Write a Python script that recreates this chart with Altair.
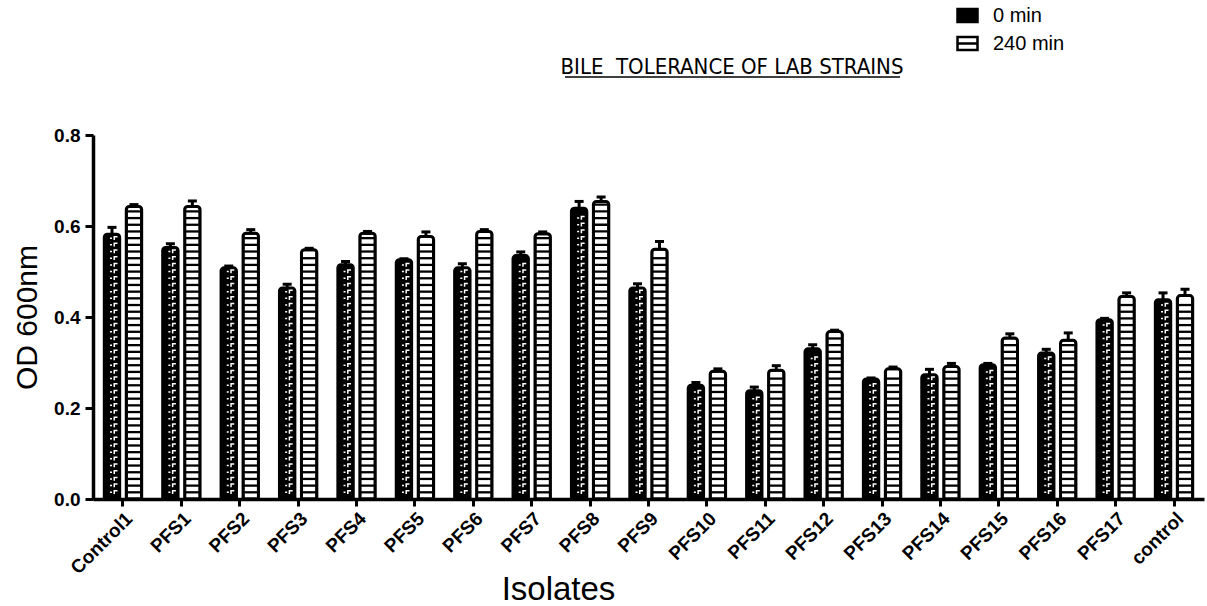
import altair as alt
import pandas as pd

# ---------------- data ----------------
categories = ["Control1", "PFS1", "PFS2", "PFS3", "PFS4", "PFS5", "PFS6", "PFS7",
              "PFS8", "PFS9", "PFS10", "PFS11", "PFS12", "PFS13", "PFS14",
              "PFS15", "PFS16", "PFS17", "control"]
series = ["0 min", "240 min"]
od_0min = [0.582, 0.553, 0.508, 0.464, 0.515, 0.526, 0.508, 0.535, 0.639, 0.464,
           0.250, 0.238, 0.330, 0.264, 0.273, 0.295, 0.321, 0.394, 0.438]
sem_0min = [0.015, 0.008, 0.004, 0.008, 0.007, 0.002, 0.009, 0.008, 0.015, 0.009,
            0.006, 0.008, 0.009, 0.002, 0.012, 0.003, 0.008, 0.003, 0.015]
od_240min = [0.643, 0.643, 0.584, 0.548, 0.584, 0.577, 0.588, 0.583, 0.654, 0.549,
             0.281, 0.283, 0.368, 0.286, 0.291, 0.354, 0.349, 0.445, 0.447]
sem_240min = [0.004, 0.012, 0.008, 0.003, 0.004, 0.010, 0.004, 0.004, 0.010, 0.017,
              0.005, 0.010, 0.003, 0.004, 0.007, 0.009, 0.016, 0.008, 0.014]
y_ticks = [0.0, 0.2, 0.4, 0.6, 0.8]
title_text = "BILE\u00a0 TOLERANCE OF LAB STRAINS"

# fill-pattern row spacing (style only, in data units)
PATTERN_STEP = 0.0147
PATTERN_TOP_MARGIN = 0.007

rows = []
for c, v, e in zip(categories, od_0min, sem_0min):
    rows.append({"Isolate": c, "Time": series[0], "OD": v, "SEM": e, "top": v + e})
for c, v, e in zip(categories, od_240min, sem_240min):
    rows.append({"Isolate": c, "Time": series[1], "OD": v, "SEM": e, "top": v + e})
df = pd.DataFrame(rows)

pat_rows = []
for r in rows:
    k = 1
    while k * PATTERN_STEP < r["OD"] - PATTERN_TOP_MARGIN:
        pat_rows.append({"Isolate": r["Isolate"], "Time": r["Time"], "py": k * PATTERN_STEP})
        k += 1
pat = pd.DataFrame(pat_rows)

FONT = "Liberation Sans"

x_enc = alt.X("Isolate:N", sort=categories,
              scale=alt.Scale(paddingInner=0.247, paddingOuter=0.137),
              axis=alt.Axis(title="Isolates", grid=False, labelAngle=-45, labelFont=FONT,
                            labelFontSize=19, labelFontWeight="bold", labelColor="black",
                            labelPadding=3, labelAlign="right", labelBaseline="top",
                            tickSize=7, tickWidth=3, tickColor="black",
                            domainWidth=3.5, domainColor="black",
                            titleFont=FONT, titleFontSize=33, titleFontWeight="normal",
                            titleColor="black", titleX=465, titleY=74,
                            titleAnchor="middle", titleAlign="center"))
xo_enc = alt.XOffset("Time:N", sort=series,
                     scale=alt.Scale(domain=series, paddingInner=0.3, paddingOuter=0.15))
y_scale = alt.Scale(domain=[0, 0.8], nice=False)
y_axis = alt.Axis(title="OD 600nm", grid=False, values=y_ticks, format=".1f",
                  labelFont=FONT, labelFontSize=19, labelFontWeight="bold",
                  labelColor="black", labelPadding=5,
                  tickSize=8, tickWidth=3, tickColor="black",
                  domainWidth=3.5, domainColor="black",
                  titleFont=FONT, titleFontSize=30, titleFontWeight="normal",
                  titleColor="black", titlePadding=11)

base = alt.Chart(df)

bars = base.mark_bar(stroke="black", strokeWidth=3,
                     cornerRadiusTopLeft=3, cornerRadiusTopRight=3).encode(
    x=x_enc,
    xOffset=xo_enc,
    y=alt.Y("OD:Q", scale=y_scale, axis=y_axis),
    fill=alt.Fill("Time:N", sort=series,
                  scale=alt.Scale(domain=series, range=["black", "white"]),
                  legend=alt.Legend(title=None, orient="none", legendX=863, legendY=-131,
                                    direction="vertical", padding=0,
                                    symbolType="M-1,-0.65H1V0.65H-1Z M-1,0H1",
                                    symbolSize=400, symbolStrokeColor="black",
                                    symbolStrokeWidth=2.5, symbolFillColor="black",
                                    labelFont=FONT, labelFontSize=20, labelColor="black",
                                    labelOffset=14, rowPadding=5)),
)

sub_x = alt.X("Isolate:N", sort=categories)
sub_xo = alt.XOffset("Time:N", sort=series)

stripes = alt.Chart(pat).transform_filter(alt.datum.Time == series[1]).mark_tick(
    color="black", thickness=2.3, size=13, opacity=1).encode(
    x=sub_x, xOffset=sub_xo, y=alt.Y("py:Q"),
)

# white ".-Γ" speckle pattern inside the 0 min bars (vector glyph, pixel units)
speckle_path = "M-2,-0.75H0V0.75H-2Z M1.5,-2.25H5.5V-0.75H3V1.75H1.5Z"
speckles = alt.Chart(pat).transform_filter(alt.datum.Time == series[0]).mark_point(
    shape=speckle_path, size=4, filled=True, color="white", opacity=1, strokeWidth=0).encode(
    x=sub_x, xOffset=sub_xo, y=alt.Y("py:Q"),
)

err = base.mark_rule(color="black", strokeWidth=3).encode(
    x=sub_x, xOffset=sub_xo, y=alt.Y("OD:Q"), y2=alt.Y2("top:Q"),
)
caps = base.mark_tick(color="black", thickness=3, size=9, opacity=1).encode(
    x=sub_x, xOffset=sub_xo, y=alt.Y("top:Q"),
)

title_df = pd.DataFrame({"t": [title_text]})
title_mark = alt.Chart(title_df).mark_text(
    font="Liberation Sans Narrow, Arial Narrow, DejaVu Sans Condensed, Liberation Sans",
    fontSize=22, color="black", align="center", baseline="alphabetic").encode(
    text="t:N", x=alt.value(639), y=alt.value(-61))
underline = alt.Chart(title_df).mark_rule(color="black", strokeWidth=1.5).encode(
    x=alt.value(472), x2=alt.value(807), y=alt.value(-58))

chart = alt.layer(bars, stripes, speckles, err, caps, title_mark, underline).properties(
    width=1111, height=364,
    background="white",
    autosize=alt.AutoSizeParams(type="none"),
    padding={"left": 93, "top": 135, "right": 3, "bottom": 107},
).configure_view(stroke=None).configure_axis(grid=False)

chart.save("out.html", embed_options={"renderer": "svg", "actions": False})
